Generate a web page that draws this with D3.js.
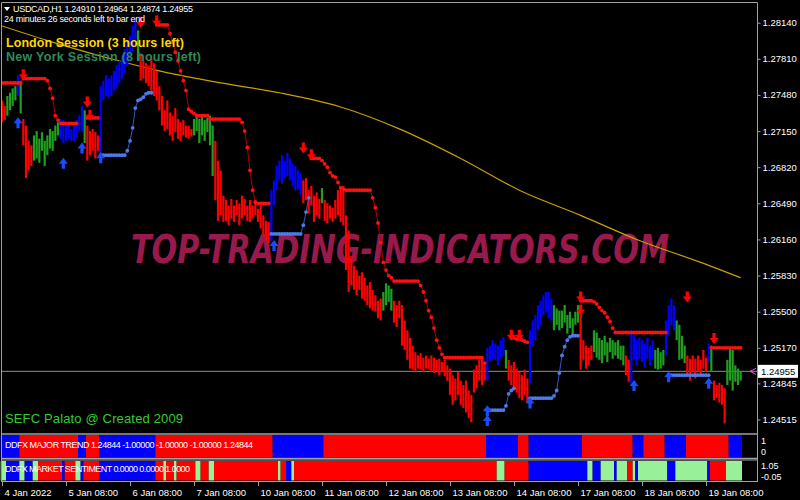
<!DOCTYPE html>
<html>
<head>
<meta charset="utf-8">
<script src="https://cdn.jsdelivr.net/npm/d3@7"></script>
<style>
body { margin:0; background:#000; }
svg { display:block; }
text { font-family: "Liberation Sans", Arial, sans-serif; }
</style>
</head>
<body>
<div id="chart"></div>
<script>
// USDCAD H1 bars (bar 0 = 4 Jan)
var barHigh = [
 1.2743,1.2738,1.2747,1.2750,1.2754,1.2756,1.2766,1.2761,1.2726,1.2720,
 1.2706,1.2702,1.2711,1.2715,1.2708,1.2714,1.2706,1.2711,1.2717,1.2715,
 1.2720,1.2723,1.2726,1.2725,1.2720,1.2723,1.2717,1.2720,1.2725,1.2729,
 1.2738,1.2734,1.2720,1.2715,1.2717,1.2714,1.2711,1.2756,1.2761,1.2766,
 1.2763,1.2766,1.2770,1.2775,1.2779,1.2784,1.2790,1.2797,1.2802,1.2811,
 1.2818,1.2807,1.2786,1.2779,1.2777,1.2775,1.2781,1.2777,1.2770,1.2756,
 1.2747,1.2734,1.2743,1.2732,1.2729,1.2736,1.2726,1.2723,1.2725,1.2720,
 1.2720,1.2717,1.2726,1.2731,1.2726,1.2729,1.2725,1.2727,1.2729,1.2720,
 1.2706,1.2688,1.2679,1.2656,1.2652,1.2647,1.2653,1.2647,1.2652,1.2649,
 1.2656,1.2653,1.2647,1.2652,1.2647,1.2652,1.2644,1.2647,1.2638,1.2633,
 1.2632,1.2661,1.2670,1.2683,1.2688,1.2693,1.2688,1.2695,1.2690,1.2685,
 1.2683,1.2679,1.2677,1.2670,1.2672,1.2661,1.2665,1.2656,1.2659,1.2653,
 1.2663,1.2652,1.2649,1.2647,1.2645,1.2652,1.2661,1.2663,1.2665,1.2638,
 1.2624,1.2601,1.2592,1.2588,1.2583,1.2586,1.2581,1.2574,1.2577,1.2570,
 1.2565,1.2560,1.2562,1.2568,1.2576,1.2574,1.2571,1.2560,1.2556,1.2560,
 1.2556,1.2542,1.2533,1.2526,1.2519,1.2513,1.2510,1.2512,1.2508,1.2510,
 1.2507,1.2510,1.2508,1.2506,1.2507,1.2504,1.2506,1.2501,1.2498,1.2492,
 1.2489,1.2495,1.2487,1.2483,1.2487,1.2478,1.2474,1.2497,1.2501,1.2506,
 1.2508,1.2501,1.2517,1.2519,1.2524,1.2521,1.2519,1.2524,1.2527,1.2515,
 1.2506,1.2501,1.2504,1.2498,1.2495,1.2492,1.2497,1.2489,1.2533,1.2542,
 1.2547,1.2556,1.2560,1.2565,1.2568,1.2568,1.2562,1.2556,1.2553,1.2551,
 1.2551,1.2556,1.2547,1.2550,1.2544,1.2550,1.2556,1.2551,1.2524,1.2519,
 1.2517,1.2519,1.2533,1.2531,1.2526,1.2524,1.2528,1.2522,1.2526,1.2524,
 1.2522,1.2524,1.2519,1.2519,1.2510,1.2506,1.2533,1.2528,1.2524,1.2526,
 1.2524,1.2521,1.2526,1.2519,1.2524,1.2515,1.2517,1.2513,1.2515,1.2542,
 1.2556,1.2562,1.2556,1.2542,1.2538,1.2528,1.2519,1.2510,1.2507,1.2510,
 1.2507,1.2510,1.2506,1.2515,1.2508,1.2521,1.2519,1.2487,1.2483,1.2485,
 1.2483,1.2480,1.2506,1.2517,1.2515,1.2501,1.2498,1.2496
];
var barLow = [
 1.2723,1.2725,1.2729,1.2734,1.2738,1.2743,1.2747,1.2731,1.2702,1.2672,
 1.2679,1.2683,1.2688,1.2690,1.2686,1.2697,1.2683,1.2693,1.2699,1.2697,
 1.2706,1.2711,1.2708,1.2704,1.2706,1.2708,1.2706,1.2706,1.2709,1.2715,
 1.2715,1.2704,1.2688,1.2693,1.2697,1.2690,1.2697,1.2693,1.2743,1.2747,
 1.2745,1.2747,1.2752,1.2754,1.2759,1.2763,1.2768,1.2775,1.2781,1.2788,
 1.2798,1.2779,1.2761,1.2763,1.2759,1.2756,1.2752,1.2747,1.2743,1.2734,
 1.2720,1.2715,1.2717,1.2711,1.2706,1.2714,1.2708,1.2706,1.2711,1.2709,
 1.2708,1.2710,1.2711,1.2715,1.2704,1.2711,1.2706,1.2714,1.2702,1.2674,
 1.2652,1.2633,1.2638,1.2632,1.2633,1.2629,1.2635,1.2632,1.2638,1.2629,
 1.2635,1.2638,1.2633,1.2632,1.2635,1.2638,1.2632,1.2626,1.2620,1.2615,
 1.2613,1.2615,1.2647,1.2661,1.2670,1.2667,1.2672,1.2674,1.2670,1.2665,
 1.2661,1.2662,1.2656,1.2649,1.2652,1.2640,1.2647,1.2632,1.2638,1.2635,
 1.2649,1.2633,1.2631,1.2635,1.2632,1.2635,1.2638,1.2632,1.2629,1.2588,
 1.2568,1.2574,1.2570,1.2565,1.2570,1.2562,1.2560,1.2556,1.2553,1.2551,
 1.2550,1.2544,1.2542,1.2551,1.2556,1.2559,1.2551,1.2540,1.2536,1.2544,
 1.2519,1.2515,1.2506,1.2498,1.2497,1.2495,1.2498,1.2497,1.2495,1.2498,
 1.2497,1.2495,1.2494,1.2495,1.2492,1.2495,1.2491,1.2487,1.2474,1.2465,
 1.2469,1.2474,1.2465,1.2462,1.2458,1.2453,1.2449,1.2476,1.2480,1.2487,
 1.2483,1.2487,1.2487,1.2504,1.2507,1.2506,1.2501,1.2507,1.2510,1.2498,
 1.2487,1.2483,1.2478,1.2476,1.2471,1.2469,1.2474,1.2467,1.2485,1.2519,
 1.2524,1.2533,1.2538,1.2547,1.2550,1.2544,1.2542,1.2533,1.2538,1.2533,
 1.2535,1.2540,1.2530,1.2535,1.2528,1.2538,1.2540,1.2497,1.2506,1.2498,
 1.2501,1.2506,1.2513,1.2508,1.2506,1.2503,1.2510,1.2504,1.2513,1.2507,
 1.2510,1.2507,1.2506,1.2501,1.2492,1.2486,1.2485,1.2506,1.2501,1.2507,
 1.2504,1.2499,1.2507,1.2501,1.2506,1.2498,1.2497,1.2498,1.2501,1.2510,
 1.2528,1.2538,1.2533,1.2524,1.2506,1.2507,1.2503,1.2492,1.2487,1.2495,
 1.2489,1.2495,1.2492,1.2498,1.2495,1.2504,1.2495,1.2469,1.2471,1.2467,
 1.2465,1.2448,1.2483,1.2487,1.2478,1.2486,1.2483,1.2487
];
// r = bearish, g = neutral, b = bullish
var barColor =
 "rrggggbgrr" + "rrgggggggg" + "ggbbbbbbbb" + "bgrrrrrbbb" + "bbbbbbbbbb" +
 "bgrrrrrrrr" + "rrrrrrrrrr" + "rrgggggggg" + "rrrrrrrrrr" + "rrrrrrrrrr" +
 "rbbbbbbbbb" + "bbbrrrrrrr" + "grrrrrrrrr" + "rrrrrrrrrr" + "rrrggggrrr" +
 "rrrrrrrrrr" + "rrrrrrrrrr" + "rrrrrrrrrr" + "rrbbbbbbbg" + "rrrrrrrrbb" +
 "bbbbbbbggg" + "gggggggrrr" + "rrgggggggg" + "ggggrrbbbb" + "bbbbbggggb" +
 "bbbggggrrr" + "rrrrrbgrrr" + "rrgggggg";

// trailing stop (red above price, blue below price): first bar + values
var redStopStart = [0, 32, 58, 116, 191, 217, 266];
var redStopVals = [
 [1.2759,1.2759,1.2759,1.2759,1.2759,1.2759,1.2759,1.2759,1.2763,1.2763,1.2763,1.2763,1.2763,1.2763,
  1.2763,1.2763,1.2763,1.2761,1.2754,1.2745,1.2729,1.2725,1.2722,1.2722,1.2722,1.2722,1.2722,1.2722,1.2722],
 [1.2727,1.2727,1.2727,1.2727,1.2727],
 [1.2812,1.2812,1.2812,1.2812,1.2812,1.2804,1.2796,1.2787,1.2779,1.2770,1.2761,1.2752,1.2735,1.2733,
  1.2731,1.2729,1.2729,1.2729,1.2729,1.2729,1.2726,1.2726,1.2726,1.2726,1.2726,1.2726,1.2726,1.2726,
  1.2726,1.2726,1.2726,1.2726,1.2723,1.2715,1.2700,1.2679,1.2661,1.2650,1.2649,1.2649,1.2649,1.2649,1.2649],
 [1.2690,1.2690,1.2690,1.2690,1.2688,1.2685,1.2682,1.2677,1.2674,1.2673,1.2668,1.2663,1.2662,
  1.2661,1.2661,1.2661,1.2661,1.2661,1.2661,1.2661,1.2661,1.2661,1.2661,1.2654,1.2645,1.2631,1.2613,
  1.2595,1.2588,1.2583,1.2581,1.2578,1.2578,1.2578,1.2578,1.2578,1.2578,1.2578,1.2578,1.2578,1.2578,
  1.2574,1.2568,1.2560,1.2551,1.2545,1.2535,1.2524,1.2517,1.2511,1.2508,1.2508,1.2508,1.2508,1.2508,
  1.2508,1.2508,1.2508,1.2508,1.2508,1.2508,1.2508,1.2508,1.2508,1.2508,1.2503],
 [1.2526,1.2526,1.2525,1.2525,1.2524,1.2523,1.2522],
 [1.2560,1.2560,1.2560,1.2560,1.2560,1.2559,1.2557,1.2554,1.2551,1.2549,1.2545,1.2541,1.2535,
  1.2531,1.2531,1.2531,1.2531,1.2531,1.2531,1.2531,1.2531,1.2531,1.2531,1.2531,1.2531,1.2531,1.2531,
  1.2531,1.2531,1.2531,1.2531,1.2531,1.2531],
 [1.2517,1.2517,1.2517,1.2517,1.2517,1.2517,1.2517,1.2517,1.2517,1.2517,1.2517,1.2517]
];
var blueStopStart = [37, 101, 182, 198, 250];
var blueStopVals = [
 [1.2693,1.2693,1.2693,1.2693,1.2693,1.2693,1.2693,1.2693,1.2693,1.2693,1.2697,1.2706,1.2718,1.2736,
  1.2743,1.2744,1.2746,1.2749,1.2750,1.2750],
 [1.2621,1.2621,1.2621,1.2621,1.2621,1.2621,1.2621,1.2621,1.2621,1.2621,1.2621,1.2621,1.2629,1.2641,1.2654],
 [1.2460,1.2460,1.2460,1.2460,1.2460,1.2460,1.2460,1.2464,1.2475,1.2478,1.2480],
 [1.2471,1.2471,1.2471,1.2471,1.2471,1.2471,1.2471,1.2471,1.2471,1.2473,1.2478,1.2494,1.2510,1.2518,
  1.2524,1.2527,1.2528,1.2528,1.2528],
 [1.2492,1.2492,1.2492,1.2492,1.2492,1.2492,1.2492,1.2492,1.2492,1.2492,1.2492,1.2492,1.2492,1.2492,1.2492,1.2492]
];

// signal arrows [bar, price]
var sellArrows = [[8,1.2766],[32,1.2741],[33,1.2729],[52,1.2814],[58,1.2815],[113,1.2699],[116,1.2693],
  [191,1.2528],[194,1.2528],[217,1.2563],[217,1.2551],[257,1.2563],[267,1.2525]];
var buyArrows = [[6,1.2723],[23,1.2686],[30,1.2700],[37,1.2691],[102,1.2611],[182,1.2451],[182,1.2460],
  [198,1.2467],[237,1.2483],[250,1.2491],[265,1.2485]];

// slow moving average [bar, price]
var maPoints = [[0,1.2811],[18,1.2797],[44,1.2779],[59,1.2770],[82,1.2759],[104,1.2750],[127,1.2737],
  [149,1.2717],[172,1.2690],[194,1.2661],[217,1.2638],[239,1.2615],[262,1.2595],[277,1.2581]];

// indicator windows: [colour, first bar, last bar]
var trendRuns = [["b",0,6],["r",7,28],["b",29,31],["r",32,36],["b",37,57],["r",58,101],["b",102,120],
  ["r",121,181],["b",182,193],["r",194,197],["b",198,217],["r",218,236],["b",237,240],["r",241,248],
  ["b",249,256],["r",257,272],["b",273,277]];
var sentimentRuns = [["g",0,1],["b",2,6],["g",7,8],["b",9,11],["g",12,13],["r",14,22],["b",23,23],
  ["r",24,27],["g",28,29],["b",30,30],["r",31,36],["b",37,57],["r",58,60],["g",61,61],["r",62,64],
  ["g",65,65],["r",66,72],["g",73,74],["r",75,77],["g",78,79],["r",80,103],["g",104,104],["r",105,106],
  ["b",107,108],["g",109,109],["r",110,185],["g",186,188],["r",189,197],["b",198,219],["g",220,221],
  ["b",222,224],["g",225,229],["b",230,230],["g",231,234],["r",235,236],["g",237,237],["b",238,238],
  ["g",239,249],["b",250,252],["g",253,264],["b",265,265],["r",266,271],["g",272,277]];

var priceTicks = [1.28140,1.27810,1.27480,1.27150,1.26820,1.26490,1.26160,1.25830,1.25500,1.25170,1.24845,1.24515];
var timeTickBars = [0,24,48,72,96,120,144,168,192,216,240,264];
var timeTickLabels = ["4 Jan 2022","5 Jan 08:00","6 Jan 08:00","7 Jan 08:00","10 Jan 08:00","11 Jan 08:00",
  "12 Jan 08:00","13 Jan 08:00","14 Jan 08:00","17 Jan 08:00","18 Jan 08:00","19 Jan 08:00"];
var lastPrice = 1.24955;

var svgwidth = 800, svgheight = 500, axisX = 757, paneBottom = 434;
var barCol = {r:'#ff0000', g:'#1f9e1f', b:'#0000ff'};
var panelCol = {r:'#ff0000', g:'#98f098', b:'#0000ff'};

var svg = d3.select('#chart').append('svg')
	.attr('width', svgwidth)
	.attr('height', svgheight)
	.style('background', '#000');

var x = d3.scaleLinear().domain([0, 283.125]).range([2, axisX]);
var y = d3.scaleLinear().domain([1.28140, 1.24515]).range([22.7, 419.5]);

svg.append('clipPath').attr('id', 'pane')
	.append('rect').attr('x', 2).attr('y', 2).attr('width', axisX - 2).attr('height', paneBottom - 2);

// watermark (narrow italic, stretched vertically)
svg.append('text')
	.attr('transform', 'translate(131,263) scale(1,1.4)')
	.attr('textLength', 538).attr('lengthAdjust', 'spacingAndGlyphs')
	.style('font-family', '"DejaVu Sans", sans-serif')
	.style('font-weight', 'bold').style('font-style', 'italic')
	.style('font-size', '28px')
	.attr('fill', '#981a4c')
	.text('TOP-TRADING-INDICATORS.COM');

var pane = svg.append('g').attr('clip-path', 'url(#pane)');

// moving average
pane.append('path')
	.datum(maPoints)
	.attr('fill', 'none').attr('stroke', '#c8a000').attr('stroke-width', 1.2)
	.attr('d', d3.line().curve(d3.curveMonotoneX)
		.x(function(d) { return x(d[0]); })
		.y(function(d) { return y(d[1]); }));

// bid line
pane.append('line')
	.attr('x1', 2).attr('x2', axisX)
	.attr('y1', y(lastPrice)).attr('y2', y(lastPrice))
	.attr('stroke', '#8c8c8c').attr('stroke-width', 1);

// bars
pane.selectAll('rect.bar')
	.data(barHigh)
	.enter().append('rect')
		.attr('class', 'bar')
		.attr('x', function(d, i) { return x(i) - 1.1; })
		.attr('width', 2.2)
		.attr('y', function(d) { return y(d); })
		.attr('height', function(d, i) { return Math.max(1, y(barLow[i]) - y(d)); })
		.attr('fill', function(d, i) { return barCol[barColor[i]]; });

function drawStops(starts, vals, lineColor, dotColor) {
	starts.forEach(function(s, k) {
		var pts = vals[k].map(function(v, j) { return [s + j, v]; });
		pane.append('path')
			.datum(pts)
			.attr('fill', 'none').attr('stroke', lineColor).attr('stroke-width', 1)
			.attr('d', d3.line()
				.x(function(d) { return x(d[0]); })
				.y(function(d) { return y(d[1]); }));
		pane.selectAll(null)
			.data(pts)
			.enter().append('circle')
				.attr('cx', function(d) { return x(d[0]); })
				.attr('cy', function(d) { return y(d[1]); })
				.attr('r', 1.9)
				.attr('fill', dotColor);
	});
}
drawStops(redStopStart, redStopVals, '#b00000', '#ff1010');
drawStops(blueStopStart, blueStopVals, '#3458b8', '#4d7be8');

// arrows
var downArrow = 'M-1.6,-6 L1.6,-6 L1.6,-1 L4.5,-1 L0,5 L-4.5,-1 L-1.6,-1 Z';
var upArrow = 'M-1.6,6 L1.6,6 L1.6,1 L4.5,1 L0,-5 L-4.5,1 L-1.6,1 Z';
pane.selectAll(null).data(sellArrows).enter().append('path')
	.attr('d', downArrow)
	.attr('transform', function(d) { return 'translate(' + x(d[0]) + ',' + y(d[1]) + ')'; })
	.attr('fill', '#ff0000');
pane.selectAll(null).data(buyArrows).enter().append('path')
	.attr('d', upArrow)
	.attr('transform', function(d) { return 'translate(' + x(d[0]) + ',' + y(d[1]) + ')'; })
	.attr('fill', '#1a4cff');

// texts on the main pane
svg.append('path').attr('d', 'M4,7 L10,7 L7,11 Z').attr('fill', '#fff');
svg.append('text').attr('x', 13).attr('y', 12).attr('fill', '#fff')
	.style('font-size', '9px').attr('textLength', 180)
	.text('USDCAD,H1  1.24910 1.24964 1.24874 1.24955');
svg.append('text').attr('x', 4).attr('y', 22).attr('fill', '#fff')
	.style('font-size', '9px').attr('textLength', 141)
	.text('24 minutes 26 seconds left to bar end');
svg.append('text').attr('x', 6).attr('y', 47).attr('fill', '#ffd700')
	.style('font-size', '12.5px').style('font-weight', 'bold').attr('textLength', 178)
	.text('London Session (3 hours left)');
svg.append('text').attr('x', 6).attr('y', 61).attr('fill', '#2e8b57')
	.style('font-size', '12.5px').style('font-weight', 'bold').attr('textLength', 195)
	.text('New York Session (8 hours left)');
svg.append('text').attr('x', 5).attr('y', 423).attr('fill', '#32cd32')
	.style('font-size', '13px').attr('textLength', 178)
	.text('SEFC Palato @ Created 2009');

// indicator windows
function drawPanel(runs, top, bottom) {
	svg.selectAll(null).data(runs).enter().append('rect')
		.attr('x', function(d) { return x(d[1] - 0.5); })
		.attr('width', function(d) { return x(d[2] + 0.5) - x(d[1] - 0.5); })
		.attr('y', top).attr('height', bottom - top)
		.attr('fill', function(d) { return panelCol[d[0]]; });
}
drawPanel(trendRuns, 435, 457.5);
drawPanel(sentimentRuns, 461, 480.5);
svg.append('text').attr('x', 5).attr('y', 448).attr('fill', '#fff')
	.style('font-size', '9px').attr('textLength', 248)
	.text('DDFX MAJOR TREND 1.24844 -1.00000 -1.00000 -1.00000 1.24844');
svg.append('text').attr('x', 5).attr('y', 472).attr('fill', '#fff')
	.style('font-size', '9px').attr('textLength', 185)
	.text('DDFX MARKET SENTIMENT 0.0000 0.0000 1.0000');

// frames
var frame = svg.append('g').attr('stroke', '#a0a0a0').attr('fill', 'none');
frame.append('path').attr('d', 'M1.5,' + paneBottom + ' V2.5 H' + axisX + '.5 V482');
frame.append('line').attr('x1', 1.5).attr('x2', axisX).attr('y1', paneBottom).attr('y2', paneBottom).attr('stroke-width', 1.5);
frame.append('line').attr('x1', 1.5).attr('x2', axisX).attr('y1', 458.5).attr('y2', 458.5).attr('stroke-width', 1.5);
frame.append('line').attr('x1', 1.5).attr('x2', axisX).attr('y1', 460).attr('y2', 460);
frame.append('line').attr('x1', 1.5).attr('x2', axisX).attr('y1', 481.5).attr('y2', 481.5);
frame.append('line').attr('x1', 1.5).attr('x2', 1.5).attr('y1', 434).attr('y2', 482);

// price axis
var yAxis = d3.axisRight(y).tickValues(priceTicks).tickSize(3).tickFormat(d3.format('.5f'));
var gY = svg.append('g')
	.attr('transform', 'translate(' + (axisX + 0.5) + ',0)')
	.call(yAxis);
gY.select('.domain').remove();
gY.selectAll('line').attr('stroke', '#a0a0a0');
gY.selectAll('text').attr('fill', '#fff').attr('x', 5).style('font-size', '9.5px').style('font-family', '"Liberation Sans", Arial, sans-serif');

// last price box
svg.append('rect').attr('x', 758).attr('y', y(lastPrice) - 6.5).attr('width', 40).attr('height', 13)
	.attr('fill', '#fff');
svg.append('text').attr('x', 761).attr('y', y(lastPrice) + 3.5).attr('fill', '#000')
	.style('font-size', '9.5px').text(d3.format('.5f')(lastPrice));
svg.append('path').attr('d', 'M756,' + (y(lastPrice) - 3) + ' L750,' + y(lastPrice) + ' L756,' + (y(lastPrice) + 3))
	.attr('fill', 'none').attr('stroke', '#ff40ff');

// indicator scales
var sub = svg.append('g').attr('fill', '#fff').style('font-size', '9px');
sub.append('text').attr('x', 761).attr('y', 444).text('1');
sub.append('text').attr('x', 761).attr('y', 455).text('0');
sub.append('text').attr('x', 761).attr('y', 469).text('1.05');
sub.append('text').attr('x', 761).attr('y', 480).text('-0.05');

// time axis
var xAxis = d3.axisBottom(x).tickValues(timeTickBars).tickSize(4)
	.tickFormat(function(d, i) { return timeTickLabels[i]; });
var gX = svg.append('g')
	.attr('transform', 'translate(0,482)')
	.call(xAxis);
gX.select('.domain').remove();
gX.selectAll('line').attr('stroke', '#a0a0a0');
gX.selectAll('text').attr('fill', '#fff').attr('text-anchor', 'start').attr('dx', 2).attr('y', 7)
	.style('font-size', '9.5px').style('font-family', '"Liberation Sans", Arial, sans-serif');
</script>
</body>
</html>
